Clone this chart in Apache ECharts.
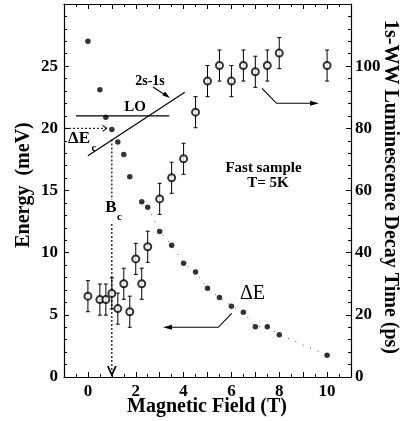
<!DOCTYPE html>
<html><head><meta charset="utf-8">
<script src="https://cdn.jsdelivr.net/npm/echarts@6/dist/echarts.min.js"></script>
<style>html,body{margin:0;padding:0;background:#fff}#c{width:400px;height:421px}</style>
</head><body><div id="c"></div>
<script>
// ΔE (filled dots, left axis, meV)
const fieldDE = [0, 0.5, 0.75, 1, 1.25, 1.5, 1.75, 2.25, 2.5, 3, 3.5, 4, 4.5, 5, 5.5, 6, 6.5, 7, 7.5, 8, 10];
const deltaE  = [27.0, 23.1, 20.9, 19.9, 18.9, 17.9, 16.1, 14.1, 13.65, 11.7, 10.6, 9.15, 8.45, 7.13, 6.4, 5.7, 5.2, 4.05, 4.05, 3.4, 1.75];
// 1s-WW decay time (open circles, right axis, ps)
const fieldTau = [0, 0.5, 0.75, 1, 1.25, 1.5, 1.75, 2, 2.25, 2.5, 3, 3.5, 4, 4.5, 5, 5.5, 6, 6.5, 7, 7.5, 8, 10];
const decayTau = [26.0, 24.9, 24.9, 26.9, 22.0, 30.0, 21.0, 38.0, 30.0, 41.9, 57.3, 64.1, 70.2, 85.2, 95.2, 100.2, 95.2, 100.2, 98.2, 100.2, 104.2, 100.2];
const errTau   = [5, 5, 5, 5, 5, 5, 5, 5, 5, 5, 5, 5, 5, 5, 5, 5, 5, 5, 5, 5, 5, 5];
// dotted guide through ΔE starts at this field
const fitStartField = 2.25;
// annotation values (data units)
const loEnergy = 21, loRange = [-0.5, 3.4];
const line2s1s = [[0, 17.8], [4.05, 22.9]];
const deltaEc = 20, deltaEcEnd = 0.78;
const Bc = 1.0, BcTop = 19.1;
// tick labels
const xTickLabels = [0, 2, 4, 6, 8, 10];

const FONT = "'Liberation Serif','Times New Roman',serif";
const chart = echarts.init(document.getElementById('c'), null, {renderer: 'canvas'});

const axisCommon = {
  axisLine: {show: true, onZero: false, lineStyle: {color: '#000', width: 1.2}},
  axisTick: {show: true, inside: true, length: 5, lineStyle: {color: '#000', width: 1}},
  minorTick: {show: true, length: 3, lineStyle: {color: '#000', width: 1}},
  splitLine: {show: false},
  axisLabel: {color: '#000', fontFamily: FONT, fontWeight: 'bold', fontSize: 17, showMaxLabel: false}
};

const fitData = fieldDE.map((b, i) => [b, deltaE[i]]).filter(d => d[0] >= fitStartField);

chart.setOption({
  animation: false,
  backgroundColor: '#fff',
  grid: {left: 64, right: 49, top: 4, bottom: 44},
  xAxis: [
    Object.assign({}, axisCommon, {
      type: 'value', min: -1, max: 11, interval: 1,
      minorTick: Object.assign({}, axisCommon.minorTick, {splitNumber: 2}),
      axisLabel: Object.assign({}, axisCommon.axisLabel, {margin: 6,
        formatter: v => xTickLabels.indexOf(v) >= 0 ? String(v) : ''})
    }),
    Object.assign({}, axisCommon, {
      type: 'value', min: -1, max: 11, interval: 1, position: 'top',
      minorTick: Object.assign({}, axisCommon.minorTick, {splitNumber: 2}),
      axisLabel: {show: false}
    })
  ],
  yAxis: [
    Object.assign({}, axisCommon, {
      type: 'value', min: 0, max: 30, interval: 5,
      minorTick: Object.assign({}, axisCommon.minorTick, {splitNumber: 5}),
      axisLabel: Object.assign({}, axisCommon.axisLabel, {margin: 6})
    }),
    Object.assign({}, axisCommon, {
      type: 'value', min: 0, max: 120, interval: 20, position: 'right',
      minorTick: Object.assign({}, axisCommon.minorTick, {splitNumber: 5}),
      axisLabel: Object.assign({}, axisCommon.axisLabel, {margin: 4})
    })
  ],
  series: [
    {
      type: 'line', xAxisIndex: 0, yAxisIndex: 0, data: fitData, symbol: 'none',
      lineStyle: {color: '#444', width: 1, type: [1, 7]}, z: 1
    },
    {
      type: 'line', xAxisIndex: 0, yAxisIndex: 0, symbol: 'none',
      data: [[loRange[0], loEnergy], [loRange[1], loEnergy]],
      lineStyle: {color: '#000', width: 1.3}, z: 1
    },
    {
      type: 'line', xAxisIndex: 0, yAxisIndex: 0, symbol: 'none',
      data: line2s1s, lineStyle: {color: '#000', width: 1.2}, z: 1
    },
    {
      type: 'scatter', xAxisIndex: 0, yAxisIndex: 0, symbol: 'circle', symbolSize: 5.5,
      itemStyle: {color: '#000'}, data: fieldDE.map((b, i) => [b, deltaE[i]]), z: 3
    },
    {
      type: 'custom', xAxisIndex: 0, yAxisIndex: 1, z: 2,
      data: fieldTau.map((b, i) => [b, decayTau[i] - errTau[i], decayTau[i] + errTau[i]]),
      renderItem: (params, api) => {
        const lo = api.coord([api.value(0), api.value(1)]);
        const hi = api.coord([api.value(0), api.value(2)]);
        const s = {stroke: '#000', lineWidth: 1};
        return {type: 'group', children: [
          {type: 'line', shape: {x1: lo[0], y1: lo[1], x2: hi[0], y2: hi[1]}, style: s},
          {type: 'line', shape: {x1: lo[0] - 2, y1: lo[1], x2: lo[0] + 2, y2: lo[1]}, style: s},
          {type: 'line', shape: {x1: hi[0] - 2, y1: hi[1], x2: hi[0] + 2, y2: hi[1]}, style: s}
        ]};
      }
    },
    {
      type: 'scatter', xAxisIndex: 0, yAxisIndex: 1, symbol: 'emptyCircle', symbolSize: 7,
      itemStyle: {color: '#000', borderColor: '#000', borderWidth: 1},
      data: fieldTau.map((b, i) => [b, decayTau[i]]), z: 4
    }
  ]
});

const P = (x, y) => chart.convertToPixel({xAxisIndex: 0, yAxisIndex: 0}, [x, y]);
const ln = (pts, extra) => Object.assign({type: 'polyline', shape: {points: pts}, style: {stroke: '#000', lineWidth: 1.1, fill: null}}, extra || {});
const txt = (x, y, t, size, extra) => ({type: 'text', x: x, y: y,
  style: Object.assign({text: t, fill: '#000', font: 'bold ' + size + 'px ' + FONT, textAlign: 'center', textVerticalAlign: 'middle'}, extra || {})});

const e0 = P(-1, deltaEc), e1 = P(deltaEcEnd, deltaEc);
const bTop = P(Bc, BcTop), bBot = P(Bc, 0);
const bx = bTop[0];

chart.setOption({graphic: [
  // ΔEc dashed arrow
  ln([[e0[0] + 1, e0[1]], [e1[0], e1[1]]], {style: {stroke: '#000', lineWidth: 1, lineDash: [2, 2], fill: null}}),
  ln([[e1[0] - 4, e1[1] - 3], [e1[0], e1[1]], [e1[0] - 4, e1[1] + 3]]),
  // Bc dashed arrow
  ln([[bx, bTop[1]], [bx, 200]], {style: {stroke: '#000', lineWidth: 1.2, lineDash: [2, 2], fill: null}}),
  ln([[bx, 224], [bx, bBot[1] - 2]], {style: {stroke: '#000', lineWidth: 1.2, lineDash: [2, 2], fill: null}}),
  ln([[bx - 4, bBot[1] - 11], [bx, bBot[1] - 2], [bx + 4, bBot[1] - 11]], {style: {stroke: '#000', lineWidth: 1.8, fill: null}}),
  // 2s-1s pointer
  ln([[153, 87], [166, 95.5]]),
  {type: 'polygon', shape: {points: [[170, 98], [162.5, 95.5], [165, 91.5]]}, style: {fill: '#000'}},
  // right arrow to decay axis
  ln([[262, 88.3], [276.5, 103.3], [312, 103.3]]),
  {type: 'polygon', shape: {points: [[319, 103.3], [310, 100.8], [310, 105.8]]}, style: {fill: '#000'}},
  // left arrow to energy axis
  ln([[231.7, 313.3], [218.3, 327.3], [170, 327.3]]),
  {type: 'polygon', shape: {points: [[163, 327.3], [172, 324.8], [172, 329.8]]}, style: {fill: '#000'}},
  // labels
  txt(135, 107, 'LO', 15),
  txt(150, 81, '2s-1s', 14),
  txt(79, 139, 'ΔE', 17),
  txt(94, 148, 'c', 11),
  txt(111, 208, 'B', 17),
  txt(119.5, 217, 'c', 11),
  txt(263.5, 168.5, 'Fast sample', 15),
  txt(268, 183.5, 'T= 5K', 15),
  txt(252.5, 293.5, 'ΔE', 20, {font: '20px ' + FONT}),
  // axis titles
  txt(207, 407, 'Magnetic Field (T)', 20),
  Object.assign(txt(0, 0, 'Energy  (meV)', 20), {x: 24, y: 185, rotation: Math.PI / 2}),
  Object.assign(txt(0, 0, '1s-WW Luminescence Decay Time (ps)', 20), {x: 390, y: 187, rotation: -Math.PI / 2})
]});
</script></body></html>
